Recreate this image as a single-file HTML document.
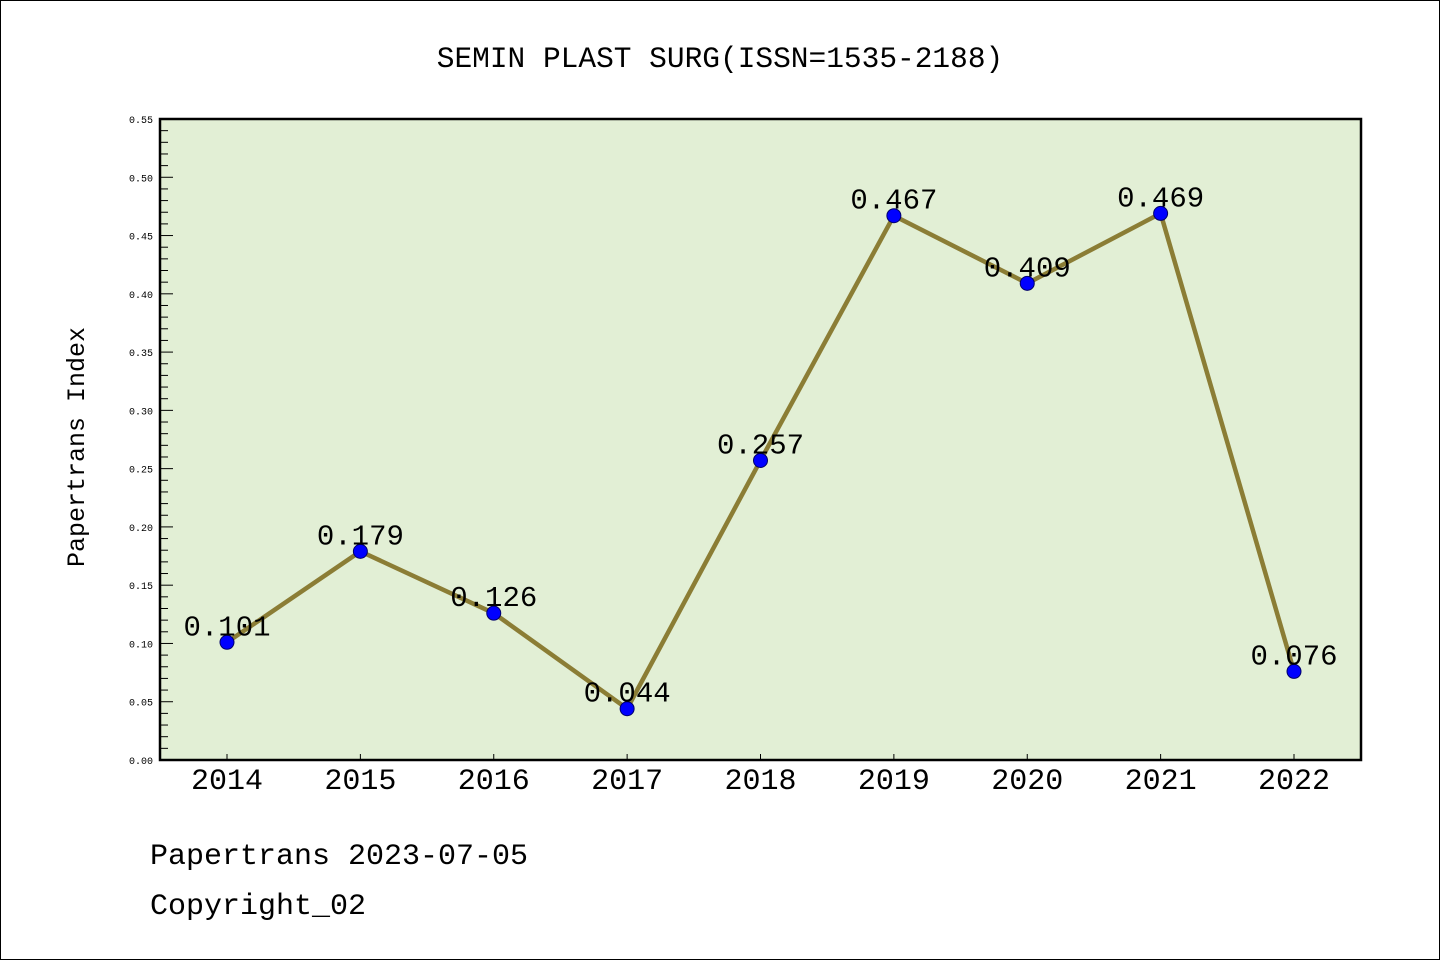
<!DOCTYPE html>
<html><head><meta charset="utf-8"><style>
body{margin:0;background:#fff}
svg{display:block}
text{font-family:"Liberation Mono","WenQuanYi Zen Hei",monospace}
</style></head><body>
<svg id="chart" width="1440" height="960" viewBox="0 0 1440 960">
<rect x="0.5" y="0.5" width="1439" height="959" fill="#fff" stroke="#000"/>
<text x="720" y="67" text-anchor="middle" font-size="29.5">SEMIN PLAST SURG(ISSN=1535-2188)</text>
<rect x="160" y="119" width="1201" height="641" fill="#e2efd5"/>
<g id="ticks"></g>
<g id="series"></g>
<rect x="160" y="119" width="1201" height="641" fill="none" stroke="#000" stroke-width="2.5"/>
<text transform="translate(84,447) rotate(-90)" text-anchor="middle" font-size="25">Papertrans Index</text>
<text x="150" y="864" font-size="30">Papertrans 2023-07-05</text>
<text x="150" y="914" font-size="30">Copyright_02</text>
</svg>
<script>
const categories = ["2014","2015","2016","2017","2018","2019","2020","2021","2022"];
const values = [0.101,0.179,0.126,0.044,0.257,0.467,0.409,0.469,0.076];
const labels = ["0.101","0.179","0.126","0.044","0.257","0.467","0.409","0.469","0.076"];
const yTicks = ["0.00","0.05","0.10","0.15","0.20","0.25","0.30","0.35","0.40","0.45","0.50","0.55"];
const NS="http://www.w3.org/2000/svg";
const L=160,R=1361,T=119,B=760,YMAX=0.55;
const y=v=>B-v/YMAX*(B-T);
const x=i=>227+i*(1294-227)/(categories.length-1);
function mk(tag,attrs,parent){const e=document.createElementNS(NS,tag);for(const k in attrs)e.setAttribute(k,attrs[k]);parent.appendChild(e);return e;}
const tg=document.getElementById('ticks'), sg=document.getElementById('series');
for(let k=0;k<=55;k++){
  const v=k/100, yy=y(v), major=k%5===0;
  const t=mk('line',{x1:L,x2:L+(major?13:8),y1:yy,y2:yy,stroke:'#000','stroke-width':1},tg);
  
  
}
yTicks.forEach(s=>{
  const t=mk('text',{x:L-7,y:y(parseFloat(s))+4,'text-anchor':'end','font-size':10},tg);
  t.textContent=s;
  
  
});
categories.forEach((c,i)=>{
  const t=mk('line',{x1:x(i),x2:x(i),y1:B,y2:B-6,stroke:'#000','stroke-width':1},tg);
  
  
  const l=mk('text',{x:x(i),y:B+29,'text-anchor':'middle','font-size':30},tg);
  l.textContent=c;
  
  
});
const pl=mk('polyline',{points:values.map((v,i)=>x(i)+','+y(v)).join(' '),fill:'none',stroke:'#8b7d35','stroke-width':4.5,'stroke-linejoin':'round'},sg);


values.forEach((v,i)=>{
  const c=mk('circle',{cx:x(i),cy:y(v),r:7,fill:'#0000ff',stroke:'#00006a','stroke-width':1},sg);
  
  
});
values.forEach((v,i)=>{
  const t=mk('text',{x:x(i),y:y(v)-7,'text-anchor':'middle','font-size':29},sg);
  t.textContent=labels[i];
  
  
});
</script>
</body></html>
